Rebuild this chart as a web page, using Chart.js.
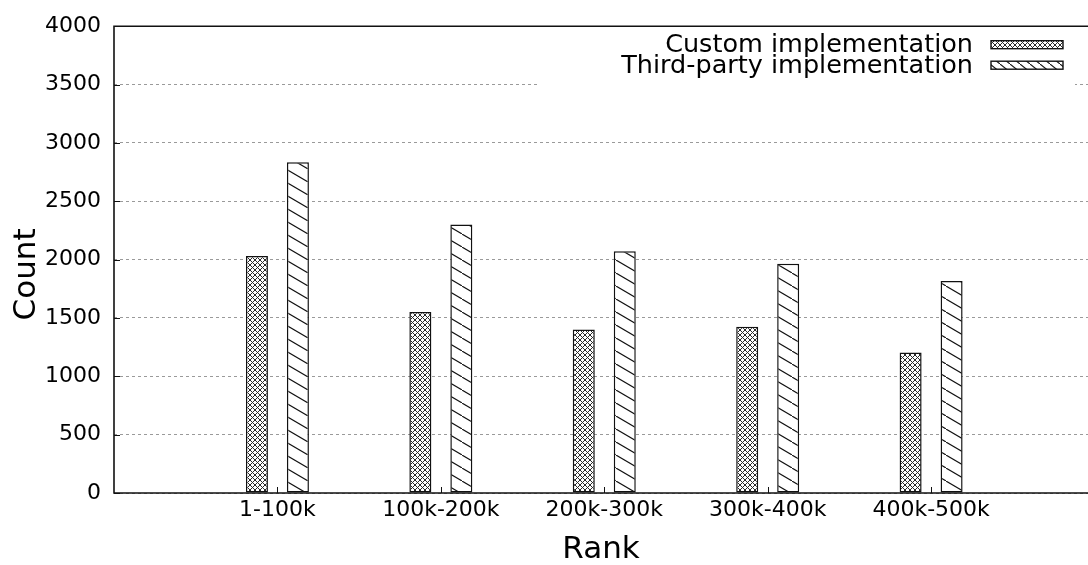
<!DOCTYPE html>
<html><head><meta charset="utf-8">
<script src="https://cdn.jsdelivr.net/npm/chart.js@4/dist/chart.umd.min.js"></script>
<style>html,body{margin:0;padding:0;background:#fff;overflow:hidden}#wrap{width:1088px;height:565px;position:relative}</style>
</head><body><div id="wrap"><canvas id="c" width="1088" height="565"></canvas></div>
<script>
const categories = ['1-100k', '100k-200k', '200k-300k', '300k-400k', '400k-500k'];
const customCounts = [2030, 1550, 1400, 1425, 1205];
const thirdPartyCounts = [2835, 2300, 2072, 1965, 1817];
const seriesNames = ['Custom implementation', 'Third-party implementation'];
const yMin = 0, yMax = 4000, yStep = 500;
const xTitle = 'Rank', yTitle = 'Count';

const canvas = document.getElementById('c');
const ctx = canvas.getContext('2d');

function crossPattern() {
  const s = 5;
  const c = document.createElement('canvas'); c.width = s; c.height = s;
  const g = c.getContext('2d');
  g.fillStyle = '#fff'; g.fillRect(0, 0, s, s);
  g.strokeStyle = '#2a2a2a'; g.lineWidth = 1;
  g.beginPath();
  g.moveTo(-1, -1); g.lineTo(s + 1, s + 1);
  g.moveTo(s + 1, -1); g.lineTo(-1, s + 1);
  g.stroke();
  return ctx.createPattern(c, 'repeat');
}
function hatchPattern(w, h) {
  const c = document.createElement('canvas'); c.width = w; c.height = h;
  const g = c.getContext('2d');
  g.fillStyle = '#fff'; g.fillRect(0, 0, w, h);
  g.strokeStyle = '#111'; g.lineWidth = 1.1;
  g.beginPath();
  g.moveTo(-w, -h); g.lineTo(2 * w, 2 * h);
  g.stroke();
  return ctx.createPattern(c, 'repeat');
}
const crossPat = crossPattern();
const hatchPat = hatchPattern(22, 13);
const keyHatchPat = hatchPattern(10, 8);

const framePlugin = {
  id: 'frame',
  afterDatasetsDraw(chart) {
    const {ctx, chartArea: a, scales: {x, y}} = chart;
    ctx.save();
    ctx.strokeStyle = '#111';
    ctx.lineWidth = 1;
    ctx.beginPath();
    y.ticks.forEach(t => {
      const py = Math.round(y.getPixelForValue(t.value)) + 0.5;
      ctx.moveTo(a.left, py); ctx.lineTo(a.left + 6, py);
    });
    categories.forEach((c, i) => {
      const px = Math.round(x.getPixelForValue(i)) + 0.5;
      ctx.moveTo(px, a.bottom); ctx.lineTo(px, a.bottom - 6);
    });
    ctx.stroke();
    ctx.lineWidth = 1.6;
    ctx.beginPath();
    ctx.moveTo(a.right + 2, a.top); ctx.lineTo(a.left, a.top); ctx.lineTo(a.left, a.bottom); ctx.lineTo(a.right + 2, a.bottom);
    ctx.stroke();
    ctx.restore();
  }
};

const keyPlugin = {
  id: 'key',
  afterDraw(chart) {
    const {ctx, chartArea: a} = chart;
    ctx.save();
    ctx.fillStyle = '#fff';
    ctx.fillRect(a.right - 548, a.top + 3, 535, 62);
    const boxW = 72, boxH = 8;
    const boxX = a.right - 25 - boxW;
    const rows = [a.top + 18.5, a.top + 39];
    const fills = [crossPat, keyHatchPat];
    ctx.font = '25.5px "DejaVu Sans"';
    ctx.textAlign = 'right';
    ctx.textBaseline = 'middle';
    chart.data.datasets.forEach((ds, i) => {
      const cy = rows[i];
      ctx.fillStyle = '#000';
      ctx.fillText(ds.label, boxX - 18, cy + 1);
      ctx.fillStyle = fills[i];
      ctx.fillRect(boxX, cy - boxH / 2, boxW, boxH);
      ctx.strokeStyle = '#111'; ctx.lineWidth = 1.4;
      ctx.strokeRect(boxX, cy - boxH / 2, boxW, boxH);
    });
    ctx.restore();
  }
};

new Chart(ctx, {
  type: 'bar',
  data: {
    datasets: [
      { label: seriesNames[0], data: customCounts.map((v, i) => ({x: i, y: v})),
        backgroundColor: crossPat, borderColor: '#111', borderWidth: 1.5, borderSkipped: false },
      { label: seriesNames[1], data: thirdPartyCounts.map((v, i) => ({x: i, y: v})),
        backgroundColor: hatchPat, borderColor: '#111', borderWidth: 1.5, borderSkipped: false }
    ]
  },
  options: {
    responsive: false,
    animation: false,
    devicePixelRatio: 1,
    layout: { padding: { top: 24, right: 0, left: 0, bottom: 0 } },
    datasets: { bar: { categoryPercentage: 0.5015, barPercentage: 0.537 } },
    plugins: { legend: { display: false }, tooltip: { enabled: false } },
    scales: {
      x: {
        type: 'linear', min: -1, max: 4.96, offset: false,
        afterBuildTicks: s => { s.ticks = categories.map((c, i) => ({ value: i })); },
        afterFit: s => { s.height = 72; },
        grid: { display: false, drawTicks: false },
        border: { display: false },
        ticks: {
          callback: v => categories[v] !== undefined ? categories[v] : '',
          font: { family: 'DejaVu Sans', size: 22 }, color: '#000',
          padding: 4, maxRotation: 0, autoSkip: false
        },
        title: { display: true, text: xTitle, color: '#000',
          font: { family: 'DejaVu Sans', size: 31, lineHeight: 1 }, padding: { top: 0, bottom: 0 } }
      },
      y: {
        min: yMin, max: yMax,
        afterFit: s => { s.width = 114; },
        grid: { color: '#9a9a9a', lineWidth: 1, drawTicks: false },
        border: { display: false, dash: [3, 3] },
        ticks: { stepSize: yStep, callback: v => String(v),
          font: { family: 'DejaVu Sans', size: 22 }, color: '#000', padding: 13 },
        title: { display: true, text: yTitle + '   ', color: '#000',
          font: { family: 'DejaVu Sans', size: 31, lineHeight: 1.2 }, padding: { top: 8, bottom: 0 } }
      }
    }
  },
  plugins: [framePlugin, keyPlugin]
});
</script></body></html>
